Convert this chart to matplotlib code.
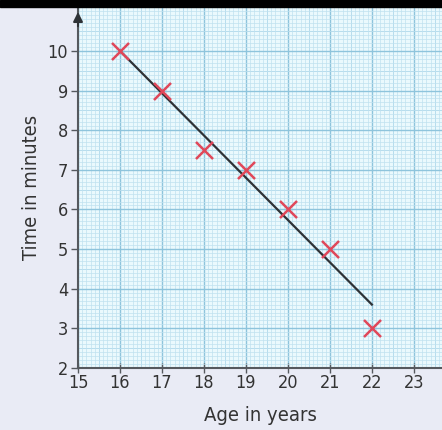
import numpy as np
import matplotlib
matplotlib.use('Agg')
from matplotlib import pyplot as plt
from matplotlib.ticker import MultipleLocator

ages = [16, 17, 18, 19, 20, 21, 22]
times = [10, 9, 7.5, 7, 6, 5, 3]
line_x = [16, 22]
line_y = [10, 3.6]
xticks = [15, 16, 17, 18, 19, 20, 21, 22, 23]
yticks = [2, 3, 4, 5, 6, 7, 8, 9, 10]

plt.rcParams['font.family'] = ['DejaVu Sans']
plt.rcParams['font.stretch'] = 'condensed'

fig = plt.figure(figsize=(4.42, 4.30), dpi=100)
fig.patch.set_facecolor('#e9ebf5')
# black strip at the very top
fig.patches.append(plt.Rectangle((0, 0.983), 1, 0.017, transform=fig.transFigure,
                                 color='black', zorder=0))

ax = fig.add_axes([0.1765, 0.1442, 0.8235, 0.8388])
ax.set_facecolor('#eaf9fd')
ax.set_xlim(15, 23.67)
ax.set_ylim(2, 11.1)

ax.xaxis.set_major_locator(MultipleLocator(1))
ax.yaxis.set_major_locator(MultipleLocator(1))
ax.xaxis.set_minor_locator(MultipleLocator(0.1))
ax.yaxis.set_minor_locator(MultipleLocator(0.1))
ax.grid(which='minor', color='#bfe1f0', linewidth=0.5)
ax.grid(which='major', color='#8ec4dc', linewidth=1.0)
for v in np.arange(15.5, 23.6, 1):
    ax.axvline(v, color='#a9d4e8', linewidth=0.7, zorder=0.5)
for v in np.arange(2.5, 11.1, 1):
    ax.axhline(v, color='#a9d4e8', linewidth=0.7, zorder=0.5)
ax.set_axisbelow(True)

ax.plot(line_x, line_y, color='#2e3236', linewidth=1.6, zorder=3)
ax.scatter(ages, times, marker='x', s=150, color='#e0485a', linewidths=1.8, zorder=4)

ax.set_xticks(xticks)
ax.set_yticks(yticks)
ax.tick_params(which='minor', length=0)
ax.tick_params(which='major', length=5, width=1, color='#55595e', labelsize=13,
               labelcolor='#333333', pad=2)
ax.tick_params(axis='x', direction='inout', length=7, pad=1)
ax.spines['top'].set_visible(False)
ax.spines['right'].set_visible(False)
for s in ['left', 'bottom']:
    ax.spines[s].set_color('#55595e')
    ax.spines[s].set_linewidth(1.5)

ax.annotate('', xy=(0, 0.995), xytext=(0, 0.94), xycoords='axes fraction',
            arrowprops=dict(arrowstyle='-|>', color='#2e3236', lw=1.5, mutation_scale=14))

ax.set_xlabel('Age in years', fontsize=14.5, color='#333333', labelpad=10)
ax.set_ylabel('Time in minutes', fontsize=14.5, color='#333333', labelpad=5)

fig.savefig('out.png', dpi=100, facecolor=fig.get_facecolor())
